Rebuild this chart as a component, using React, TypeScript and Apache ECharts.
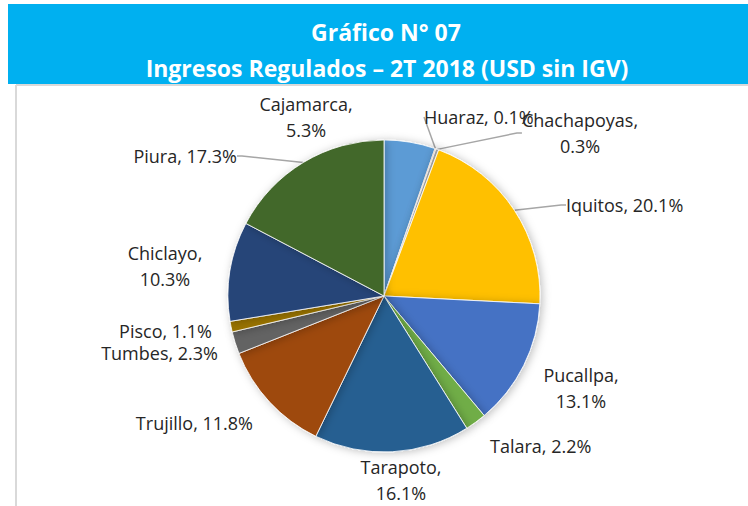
import React, { useEffect, useRef } from "react";
import * as echarts from "echarts";

const regions = ["Cajamarca", "Huaraz", "Chachapoyas", "Iquitos", "Pucallpa", "Talara", "Tarapoto", "Trujillo", "Tumbes", "Pisco", "Chiclayo", "Piura"];
const shares = [5.3, 0.1, 0.3, 20.1, 13.1, 2.2, 16.1, 11.8, 2.3, 1.1, 10.3, 17.3];
const colors = ["#5B9BD5", "#ED7D31", "#A5A5A5", "#FFC000", "#4472C4", "#70AD47", "#255E91", "#9E480E", "#636363", "#997300", "#264478", "#43682B"];
const titleLines = ["Gráfico N° 07", "Ingresos Regulados – 2T 2018 (USD sin IGV)"];

// label placement (layout only)
const labelPlaces = [
  { x: 306, y: 117, align: "center", wrap: true, line: false },
  { x: 424, y: 117, align: "left", wrap: false, line: true },
  { x: 580, y: 133, align: "center", wrap: true, line: true },
  { x: 566, y: 205, align: "left", wrap: false, line: true },
  { x: 581, y: 388, align: "center", wrap: true, line: false },
  { x: 490, y: 446, align: "left", wrap: false, line: false },
  { x: 401, y: 480, align: "center", wrap: true, line: false },
  { x: 253, y: 423, align: "right", wrap: false, line: false },
  { x: 218, y: 353, align: "right", wrap: false, line: false },
  { x: 212, y: 331, align: "right", wrap: false, line: false },
  { x: 165, y: 266, align: "center", wrap: true, line: false },
  { x: 237, y: 156, align: "right", wrap: false, line: true },
];

export default function App() {
  const ref = useRef<HTMLDivElement>(null);
  useEffect(() => {
    const chart = echarts.init(ref.current!, null, { renderer: "svg" });
    const data = regions.map((name, i) => ({
      name,
      value: shares[i],
      itemStyle: { color: colors[i] },
      label: { lineHeight: labelPlaces[i].wrap ? 26 : 19 },
      labelLine: { show: labelPlaces[i].line },
    }));
    chart.setOption({
      animation: false,
      backgroundColor: "#ffffff",
      graphic: [
        { type: "rect", shape: { x: 8, y: 4, width: 740, height: 80 }, style: { fill: "#00B0F0" }, silent: true },
        { type: "line", shape: { x1: 16, y1: 85, x2: 748, y2: 85 }, style: { stroke: "#D9D9D9", lineWidth: 2 }, silent: true },
        { type: "line", shape: { x1: 16, y1: 85, x2: 16, y2: 506 }, style: { stroke: "#D9D9D9", lineWidth: 2 }, silent: true },
        {
          type: "text", x: 386, y: 32,
          style: { text: titleLines[0], fill: "#ffffff", font: "bold 23px 'Open Sans'", align: "center", verticalAlign: "middle" },
        },
        {
          type: "text", x: 387, y: 68,
          style: { text: titleLines[1], fill: "#ffffff", font: "bold 23px 'Open Sans'", align: "center", verticalAlign: "middle" },
        },
      ],
      series: [
        {
          type: "pie",
          center: [384, 296],
          radius: 156,
          startAngle: 90,
          clockwise: true,
          avoidLabelOverlap: false,
          data,
          itemStyle: {
            borderColor: "#ffffff",
            borderWidth: 0.8,
            shadowBlur: 8,
            shadowColor: "rgba(0,0,0,0.25)",
            shadowOffsetX: 2,
            shadowOffsetY: 1,
          },
          label: {
            show: true,
            position: "outside",
            color: "#262626",
            fontFamily: "Open Sans",
            fontSize: 18,
            lineHeight: 26,
            formatter: (p: any) => {
              const v = shares[p.dataIndex].toFixed(1) + "%";
              return labelPlaces[p.dataIndex].wrap ? `${p.name},\n${v}` : `${p.name}, ${v}`;
            },
          },
          labelLine: {
            lineStyle: { color: "#A6A6A6", width: 1.5 },
            length: 10,
            length2: 5,
          },
          labelLayout: (p: any) => {
            const lp = labelPlaces[p.dataIndex];
            return { x: lp.x, y: lp.y, align: lp.align, verticalAlign: "middle" };
          },
          emphasis: { disabled: true },
        },
      ],
    });
    return () => chart.dispose();
  }, []);
  return <div ref={ref} style={{ position: "fixed", left: 0, top: 0, width: 748, height: 506 }} />;
}
